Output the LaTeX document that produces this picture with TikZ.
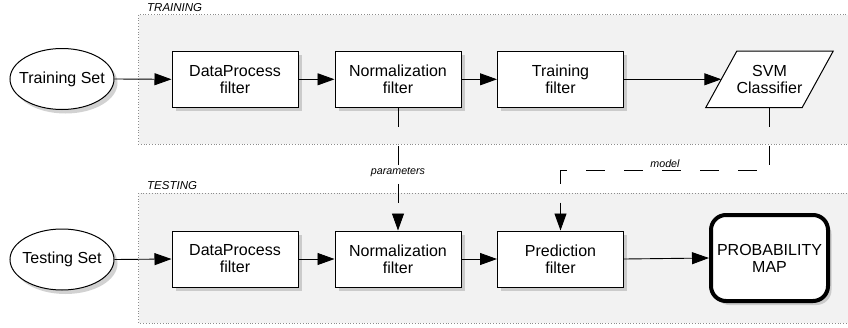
\documentclass[tikz,border=0pt]{standalone}
\usepackage{fontspec}
\setmainfont{Liberation Sans}
\usetikzlibrary{shapes.geometric,arrows.meta,shadows}

\begin{document}
\begin{tikzpicture}[x=1pt,y=-1pt,
  every node/.style={font=\fontsize{16}{17}\selectfont},
  stagebox/.style={draw=black!45, dotted, line width=0.8pt, fill=black!5},
  stagelabel/.style={anchor=base west, inner sep=0pt, font=\fontsize{11.5}{12}\selectfont\itshape},
  softshadow/.style={drop shadow={shadow xshift=3.5pt, shadow yshift=-4pt, fill=black!35}},
  filterbox/.style={draw, line width=1pt, fill=white, softshadow,
    minimum width=126pt, minimum height=56pt, align=center, inner sep=0pt},
  dataset/.style={ellipse, draw, line width=1pt, fill=white, softshadow,
    minimum width=104pt, minimum height=61pt, inner sep=0pt},
  classifier/.style={minimum width=96pt, minimum height=56pt, inner sep=0pt, align=center},
  resultbox/.style={draw, line width=4pt, rounded corners=15pt, fill=white, softshadow,
    minimum width=117pt, minimum height=86pt, align=center},
  flow/.style={line width=0.9pt, -{Triangle[length=17pt,width=12pt]}},
  link/.style={flow, dash pattern=on 19pt off 19pt},
  linklabel/.style={font=\fontsize{10.7}{11}\selectfont\itshape, inner sep=0pt}
]
\useasboundingbox (0,0) rectangle (848,327);

% stage frames
\draw[stagebox] (138.7,14.7) rectangle (850,144.3);
\node[stagelabel] (trainlabel) at (147,11.7) {TRAINING};
\draw[stagebox] (138.7,193) rectangle (850,323);
\node[stagelabel] (testlabel) at (147,189.3) {TESTING};

% training row
\node[dataset] (trset) at (62,79) {\makebox[0pt]{Training Set}};
\node[filterbox] (dp1) at (235,79.3) {DataProcess\\filter};
\node[filterbox] (nm1) at (398,79.3) {Normalization\\filter};
\node[filterbox] (tf) at (560.5,79.3) {Training\\filter};

% classifier: a parallelogram drawn around its text node
\node[classifier] (svm) at (769.5,79.3) {};
\fill[black!35, shift={(3.5,4)}]
  ([xshift=-15.5pt]svm.south west) -- ([xshift=15.5pt]svm.north west)
  -- ([xshift=15.5pt]svm.north east) -- ([xshift=-15.5pt]svm.south east) -- cycle;
\draw[line width=1pt, fill=white]
  ([xshift=-15.5pt]svm.south west) -- ([xshift=15.5pt]svm.north west)
  -- ([xshift=15.5pt]svm.north east) -- ([xshift=-15.5pt]svm.south east) -- cycle;
\node[classifier] (svmtext) at (svm.center) {SVM\\Classifier};

% testing row
\node[dataset] (tsset) at (62,259.5) {\makebox[0pt]{Testing Set}};
\node[filterbox] (dp2) at (235,259) {DataProcess\\filter};
\node[filterbox] (nm2) at (398,259) {Normalization\\filter};
\node[filterbox] (pf) at (560.5,259) {Prediction\\filter};
\node[resultbox] (pm) at (769.5,258) {PROBABILITY\\MAP};

% data flow
\draw[flow] (trset.east) -- (dp1.west);
\draw[flow] (dp1.east) -- (nm1.west);
\draw[flow] (nm1.east) -- (tf.west);
\draw[flow] (tf.east) -- (svm.west);

\draw[flow] (tsset.east) -- (dp2.west);
\draw[flow] (dp2.east) -- (nm2.west);
\draw[flow] (nm2.east) -- (pf.west);
\draw[flow] (pf.east) -- (pm.west);

% parameters and model handed to the testing stage
\draw[link] (nm1.south) -- (nm2.north);
\node[linklabel] (paramlabel) at (398,172.5) {parameters};
\coordinate (bend) at (769.5,170.7);
\draw[link] (svm.south) -- (bend) -| (pf.north);
\node[linklabel] (modellabel) at (665,163.5) {model};
\end{tikzpicture}
\end{document}
